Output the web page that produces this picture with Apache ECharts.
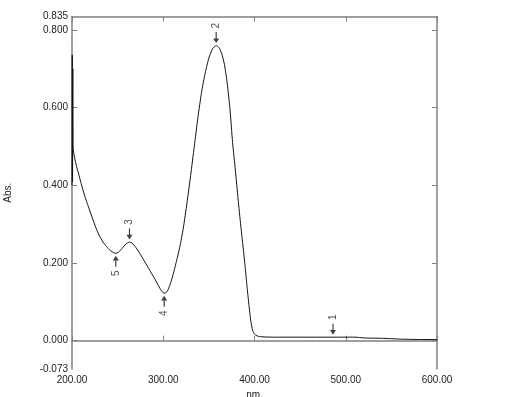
<!DOCTYPE html>
<html>
<head>
<meta charset="utf-8">
<script src="https://cdn.jsdelivr.net/npm/echarts@6/dist/echarts.min.js"></script>
<style>
  html, body { margin: 0; padding: 0; background: #fff; }
  #chart { width: 508px; height: 397px; }
</style>
</head>
<body>
<div id="chart"></div>
<script>
// spectrum
var wavelength = [200.0, 200.3, 200.6, 200.9, 201.2, 203, 205, 207, 210, 214, 218, 222, 226, 230, 234, 238, 242, 246, 248, 251, 255, 259, 263, 266, 270, 275, 280, 285, 290, 294, 297, 300, 302, 305, 308, 311, 314, 318, 322, 326, 330, 334, 338, 342, 346, 350, 354, 358, 361, 364, 367, 370, 373, 376, 379, 382, 385, 388, 390, 392, 394, 396, 398, 400, 403, 408, 420, 450, 486, 510, 520, 540, 560, 580, 600]
var absorbance = [0.400, 0.736, 0.410, 0.700, 0.496, 0.470, 0.448, 0.432, 0.405, 0.372, 0.345, 0.318, 0.292, 0.270, 0.254, 0.242, 0.232, 0.226, 0.225, 0.228, 0.238, 0.249, 0.254, 0.251, 0.240, 0.222, 0.202, 0.182, 0.162, 0.145, 0.132, 0.123, 0.122, 0.130, 0.148, 0.172, 0.200, 0.240, 0.290, 0.355, 0.425, 0.500, 0.575, 0.640, 0.690, 0.728, 0.752, 0.760, 0.755, 0.740, 0.712, 0.665, 0.600, 0.510, 0.440, 0.365, 0.295, 0.230, 0.185, 0.135, 0.090, 0.050, 0.026, 0.017, 0.012, 0.010, 0.009, 0.009, 0.009, 0.009, 0.007, 0.006, 0.004, 0.003, 0.003]

// peak / valley picks
var pickNo = ['1', '2', '3', '4', '5']
var pickX = [486, 358, 263, 301, 248]
var pickY = [0.009, 0.760, 0.254, 0.122, 0.225]
var pickIsPeak = [true, true, true, false, false]

var yLabels = [-0.073, 0.0, 0.2, 0.4, 0.6, 0.8, 0.835]
var yTicks = [0.0, 0.2, 0.4, 0.6, 0.8]

var curve = wavelength.map(function (w, i) { return [w, absorbance[i]] })

var arrow = 'path://M4.5,0 L5.5,0 L5.5,8 L7.5,8 L5,14 L2.5,8 L4.5,8 Z'
var picks = pickNo.map(function (n, i) {
  var peak = pickIsPeak[i]
  return {
    value: [pickX[i], pickY[i]],
    symbolRotate: peak ? 0 : 180,
    symbolOffset: [0, peak ? -8 : 8],
    label: {
      show: true,
      formatter: n,
      rotate: 90,
      position: 'inside',
      // offset works in the rotated frame: +x is up the page
      offset: [peak ? 12 : -12, 0]
    }
  }
})

var axisCol = '#808080'
var txt = { color: '#222', fontFamily: 'Liberation Sans, Arial, sans-serif', fontSize: 10 }

var myChart = echarts.init(document.getElementById('chart'))
myChart.setOption({
  animation: false,
  grid: { left: 72, top: 16.5, right: 71, bottom: 28, outerBoundsMode: 'none' },
  xAxis: [{
    type: 'value', min: 200, max: 600, interval: 100,
    name: 'nm.', nameLocation: 'middle', nameGap: 12,
    nameTextStyle: txt,
    axisLine: { lineStyle: { color: axisCol, width: 1.5 } },
    axisTick: { inside: true, length: 5, lineStyle: { color: axisCol } },
    axisLabel: Object.assign({ margin: 6, formatter: function (v) { return v.toFixed(2) } }, txt),
    splitLine: { show: false }
  }, {
    type: 'value', position: 'top', min: 200, max: 600, interval: 100,
    axisLine: { onZero: false, lineStyle: { color: axisCol, width: 1.5 } },
    axisTick: { inside: true, length: 5, lineStyle: { color: axisCol } },
    axisLabel: { show: false },
    splitLine: { show: false }
  }],
  yAxis: [{
    type: 'value', min: -0.073, max: 0.835,
    name: 'Abs.', nameLocation: 'middle', nameGap: 59, nameRotate: 90,
    nameTextStyle: txt,
    axisLine: { show: true, lineStyle: { color: axisCol, width: 1.5 } },
    axisTick: { show: true, inside: true, length: 5, customValues: yTicks, lineStyle: { color: axisCol } },
    axisLabel: Object.assign({ margin: 4, customValues: yLabels, formatter: function (v) { return v.toFixed(3) } }, txt),
    splitLine: { show: false }
  }, {
    type: 'value', position: 'right', min: -0.073, max: 0.835,
    axisLine: { show: true, onZero: false, lineStyle: { color: axisCol, width: 1.5 } },
    axisTick: { show: true, inside: true, length: 5, customValues: yTicks, lineStyle: { color: axisCol } },
    axisLabel: { show: false },
    splitLine: { show: false }
  }],
  series: [{
    type: 'line',
    data: curve,
    showSymbol: false,
    smooth: 0.2,
    lineStyle: { color: '#111', width: 1 }
  }, {
    type: 'scatter',
    data: picks,
    symbol: arrow,
    symbolSize: [6, 11],
    itemStyle: { color: '#111' },
    label: { color: '#222', fontSize: 10, fontFamily: 'Liberation Sans, Arial, sans-serif' }
  }]
})
</script>
</body>
</html>
